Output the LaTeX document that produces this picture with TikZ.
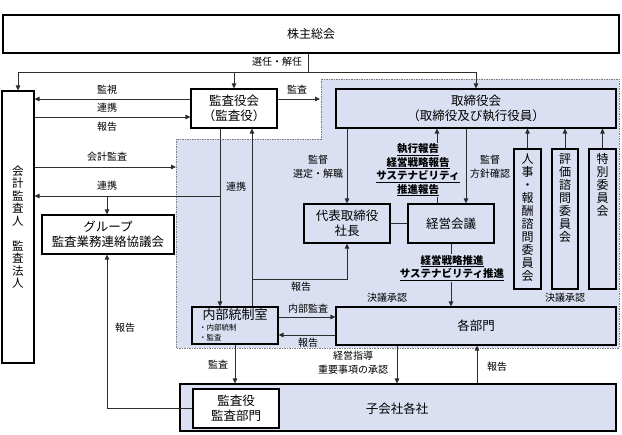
\documentclass[tikz,border=0pt]{standalone}
\usepackage{fontspec}
\setmainfont{Noto Sans CJK JP}
\usetikzlibrary{arrows.meta,calc}
\definecolor{regionc}{RGB}{218,224,242}
\definecolor{linec}{RGB}{45,45,45}
\newcommand\fBox{\fontsize{12.5}{14.5}\selectfont}
\newcommand\fLab{\fontsize{10}{14}\selectfont}
\newcommand\fBold{\fontsize{10.5}{13.5}\selectfont\bfseries}
\newcommand\fSmall{\fontsize{7.5}{10}\selectfont}
\newcommand\fVert{\fontsize{12}{13}\selectfont}
\begin{document}
\begin{tikzpicture}[x=1pt,y=-1pt,
  box/.style={draw=black, line width=1.1pt, inner sep=0pt, align=center, font=\fBox},
  wbox/.style={box, fill=white},
  lab/.style={inner sep=0.5pt, align=center, font=\fLab},
  boldlab/.style={inner sep=1pt, align=center, font=\fBold, fill=regionc},
  vtext/.style={inner sep=0pt, align=center, font=\fVert, anchor=north},
  arr/.style={draw=linec, line width=0.8pt, -{Triangle[length=5pt,width=4.5pt]}},
  ln/.style={draw=linec, line width=0.8pt}]
\useasboundingbox (0,0) rectangle (622,435);

% shaded region
\fill[regionc] (321,79) -- (619,79) -- (619,348) -- (176,348) -- (176,139) -- (321,139) -- cycle;
\draw[gray, line width=0.6pt, dash pattern=on 1.5pt off 1pt] (321,79) -- (619,79) -- (619,348) -- (176,348) -- (176,139) -- (321,139) -- cycle;

% boxes
\node[wbox, minimum width=616, minimum height=38, font=\fontsize{12}{14}\selectfont] (agm) at (311,34) {株主総会};
\node[wbox, minimum width=32, minimum height=272, font=\fontsize{11.5}{12.5}\selectfont] (kaikei) at (18,227) {会\\計\\監\\査\\人\\[12.5pt]監\\査\\法\\人};
\node[wbox, minimum width=86, minimum height=39] (kansayakukai) at (234,108.5) {監査役会\\（監査役）};
\node[box, minimum width=280, minimum height=39] (torishimari) at (476,108.5) {取締役会\\（取締役及び執行役員）};
\node[box, minimum width=86, minimum height=39] (daihyo) at (347,223.5) {代表取締役\\社長};
\node[box, minimum width=86, minimum height=39] (keiei) at (451,223.5) {経営会議};
\node[box, minimum width=27, minimum height=140] (c1) at (527.5,219) {};
\node[box, minimum width=26, minimum height=140] (c2) at (565,219) {};
\node[box, minimum width=27, minimum height=140] (c3) at (602.5,219) {};
\node[vtext] (c1t) at ($(c1.north)+(0,5)$) {人\\事\\・\\報\\酬\\諮\\問\\委\\員\\会};
\node[vtext] (c2t) at ($(c2.north)+(0,5)$) {評\\価\\諮\\問\\委\\員\\会};
\node[vtext] (c3t) at ($(c3.north)+(0,5)$) {特\\別\\委\\員\\会};
\node[box, minimum width=280, minimum height=38] (kakubumon) at (476,326) {各部門};
\node[box, minimum width=86, minimum height=37] (naibu) at (235,325.5) {};
\node[inner sep=0pt, font=\fontsize{13}{15}\selectfont] (naibut) at (235,315) {内部統制室};
\node[inner sep=0pt, align=left, anchor=west, font=\fSmall] (naibus) at (199,333) {・内部統制\\・監査};
\node[wbox, minimum width=132, minimum height=39] (group) at (108,234.5) {グループ\\監査業務連絡協議会};
\node[box, fill=regionc, minimum width=436, minimum height=47] (kogaisha) at (398,407.5) {};
\node[inner sep=0pt, font=\fBox] (kogaishat) at (397,409) {子会社各社};
\node[wbox, minimum width=86, minimum height=39] (kansabumon) at (236,408.5) {監査役\\監査部門};

% connectors
\coordinate (j1) at (308,72);
\draw[ln] (agm.south -| j1) -- (j1);
\draw[arr] (j1) -| (kaikei.north);
\draw[arr] (j1) -| (torishimari.north);
\draw[arr] (kansayakukai.north |- j1) -- (kansayakukai.north);

\draw[arr] (kansayakukai.west |- 0,99) -- (kaikei.east |- 0,99);
\draw[arr] (kaikei.east |- 0,117) -- (kansayakukai.west |- 0,117);
\coordinate (regA) at (320,99);
\draw[arr] (kansayakukai.east |- regA) -- (regA);
\coordinate (regB) at (176,167);
\draw[arr] (kaikei.east |- regB) -- (regB);

\coordinate (rk) at (220,196);
\draw[arr] (kansayakukai.south -| rk) -- (naibu.north -| rk);
\draw[arr] (rk) -- (kaikei.east |- rk);
\coordinate (rg) at (107,196);
\draw[arr] (rg) -- (group.north -| rg);

\coordinate (hk) at (252,279);
\draw[arr] (naibu.north -| hk) -- (kansayakukai.south -| hk);
\draw[arr] (hk) -| (daihyo.south);

\draw[arr] (torishimari.south -| daihyo.north) -- (daihyo.north);
\coordinate (up1) at (437,0);
\draw[arr] (keiei.north -| up1) -- (torishimari.south -| up1);
\coordinate (dn1) at (466,0);
\draw[arr] (torishimari.south -| dn1) -- (keiei.north -| dn1);
\draw[ln] (daihyo.east) -- (keiei.west);
\draw[arr] (c1.north) -- (torishimari.south -| c1.north);
\draw[arr] (c2.north) -- (torishimari.south -| c2.north);
\draw[arr] (c3.north) -- (torishimari.south -| c3.north);
\draw[arr] (keiei.south) -- (kakubumon.north -| keiei.south);

\draw[arr] (naibu.east |- 0,317) -- (kakubumon.west |- 0,317);
\draw[arr] (kakubumon.west |- 0,335) -- (naibu.east |- 0,335);
\draw[arr] (naibu.south) -- (kogaisha.north -| naibu.south);
\coordinate (sd) at (397,0);
\draw[arr] (kakubumon.south -| sd) -- (kogaisha.north -| sd);
\coordinate (su) at (477,0);
\draw[arr] (kogaisha.north -| su) -- (kakubumon.south -| su);
\draw[arr] (kansabumon.west) -| (group.south -| rg);

% labels
\node[lab] (lSennin) at (277,62) {選任・解任};
\node[lab] (lKanshi) at (107,90) {監視};
\node[lab] (lRenkei1) at (107,108) {連携};
\node[lab] (lHoukoku1) at (107,127) {報告};
\node[lab] (lKansa1) at (297,90) {監査};
\node[lab] (lKaikei) at (107,157) {会計監査};
\node[lab] (lRenkei2) at (107,186) {連携};
\node[lab] (lRenkei3) at (236,187) {連携};
\node[lab] (lKantoku1) at (318,167) {監督\\選定・解職};
\node[lab] (lKantoku2) at (490,167) {監督\\方針確認};
\node[boldlab] (lShikko) at (418,170) {\underline{執行報告}\\\underline{経営戦略報告}\\\underline{サステナビリティ}\\\underline{推進報告}};
\node[boldlab] (lSuishin) at (452,268) {\underline{経営戦略推進}\\\underline{サステナビリティ推進}};
\node[lab] (lKetsugi1) at (387,298) {決議承認};
\node[lab] (lKetsugi2) at (565,298) {決議承認};
\node[lab] (lHoukoku2) at (301,287) {報告};
\node[lab] (lNaibukansa) at (308,309) {内部監査};
\node[lab] (lHoukoku3) at (308,343) {報告};
\node[lab] (lKansa2) at (218,365) {監査};
\node[lab] (lShido) at (353,363) {経営指導\\重要事項の承認};
\node[lab] (lHoukoku4) at (497,367) {報告};
\node[lab] (lHoukoku5) at (125,328) {報告};
\end{tikzpicture}
\end{document}
